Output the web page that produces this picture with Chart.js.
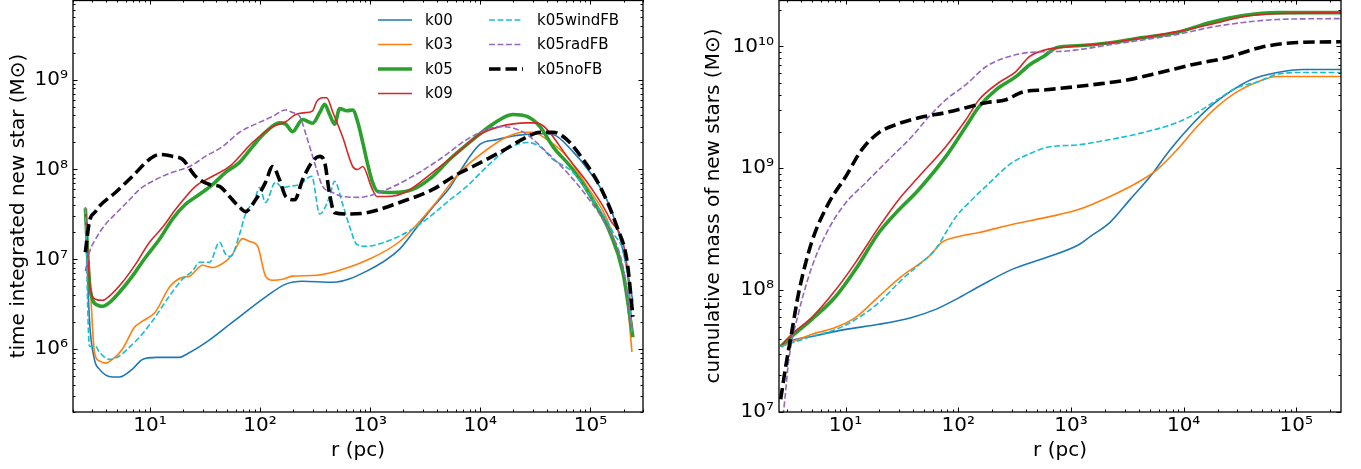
<!DOCTYPE html>
<html>
<head>
<meta charset="utf-8">
<script src="https://cdn.jsdelivr.net/npm/chart.js@4.4.1/dist/chart.umd.min.js"></script>
<style>
  html, body { margin: 0; padding: 0; background: #fff; }
  #wrap { position: relative; width: 1361px; height: 469px; overflow: hidden; }
  canvas { position: absolute; top: 0; }
  #left { left: 0; }
  #right { left: 690px; }
</style>
</head>
<body>
<div id="wrap">
  <canvas id="left" width="680" height="469"></canvas>
  <canvas id="right" width="671" height="469"></canvas>
</div>
<script>
// ---- left panel: time integrated new star mass vs r ----
const leftR_k00 = [2.59, 2.82, 3.13, 3.47, 4.56, 5.28, 6.93, 8.55, 11.5, 18.5, 21.5, 32.6, 56.2, 115, 171, 243, 456, 929, 1850, 2650, 3700, 5280, 6510, 9900, 14100, 21500, 34800, 45600, 69300, 99000, 141000, 174000, 215000, 243000];
const leftM_k00 = [3.6e7, 2.15e6, 7.7e5, 6.0e5, 4.9e5, 4.9e5, 6.0e5, 7.7e5, 8.1e5, 8.1e5, 8.8e5, 1.2e6, 2.0e6, 3.9e6, 5.3e6, 5.7e6, 5.55e6, 7.4e6, 1.3e7, 2.27e7, 3.8e7, 6.3e7, 9.5e7, 1.9e8, 2.15e8, 2.4e8, 2.5e8, 2.45e8, 1.58e8, 9.3e7, 4.6e7, 2.3e7, 7.7e6, 3.4e6];

const leftR_k03 = [2.59, 2.88, 3.13, 3.47, 3.94, 4.56, 5.62, 7.23, 8.55, 11.2, 15.0, 19.7, 22.9, 30.0, 37.0, 48.6, 56.2, 69.3, 80.3, 94.9, 112, 130, 160, 197, 300, 456, 929, 1850, 3700, 6510, 11500, 17400, 24300, 30000, 40300, 61100, 92900, 141000, 185000, 215000, 238000];
const leftM_k03 = [3.6e7, 4.6e6, 9.3e5, 7.4e5, 7.0e5, 7.7e5, 1.0e6, 1.75e6, 2.05e6, 2.6e6, 4.9e6, 6.3e6, 6.5e6, 8.6e6, 8.1e6, 9.5e6, 1.14e7, 1.7e7, 1.58e7, 1.4e7, 6.5e6, 5.85e6, 6.0e6, 6.5e6, 6.6e6, 7.2e6, 9.75e6, 1.58e7, 3.9e7, 9.3e7, 1.67e8, 2.3e8, 2.6e8, 2.6e8, 2.15e8, 1.4e8, 6.5e7, 2.8e7, 9.5e6, 3.6e6, 9.3e5];

const leftR_k05 = [2.59, 2.82, 3.0, 3.33, 3.70, 4.28, 5.28, 6.93, 9.10, 12.2, 16.0, 21.0, 28.2, 37.0, 48.6, 65.1, 85.5, 112, 150, 171, 197, 243, 300, 348, 386, 428, 475, 528, 611, 693, 769, 855, 949, 1050, 1170, 1600, 2430, 3700, 5280, 8550, 13000, 19700, 26500, 34800, 45600, 69300, 105000, 150000, 197000, 243000];
const leftM_k05 = [3.7e7, 5.55e6, 3.6e6, 3.1e6, 3.0e6, 3.3e6, 4.3e6, 6.5e6, 1.05e7, 1.67e7, 2.8e7, 4.1e7, 5.3e7, 6.8e7, 9.3e7, 1.2e8, 1.8e8, 2.6e8, 3.3e8, 3.2e8, 2.64e8, 3.6e8, 3.27e8, 4.3e8, 5.3e8, 4.1e8, 3.2e8, 4.76e8, 4.5e8, 4.6e8, 3.4e8, 2.0e8, 1.14e8, 7.2e7, 5.7e7, 5.55e7, 6.0e7, 8.4e7, 1.3e8, 2.15e8, 3.2e8, 4.1e8, 3.9e8, 3.0e8, 1.8e8, 1.0e8, 4.6e7, 2.0e7, 7.2e6, 1.36e6];

const leftR_k09 = [2.59, 2.88, 3.20, 3.70, 4.28, 5.62, 7.38, 9.9, 13.0, 17.1, 25.9, 37.0, 52.8, 85.5, 130, 171, 210, 259, 300, 326, 370, 402, 456, 562, 693, 769, 855, 1030, 1150, 1410, 2150, 3700, 5620, 9900, 15000, 26500, 32600, 40300, 61100, 99000, 150000, 215000, 238000];
const leftM_k09 = [3.8e7, 4.6e6, 3.6e6, 3.5e6, 3.9e6, 5.55e6, 8.8e6, 1.55e7, 2.27e7, 3.6e7, 6.5e7, 8.4e7, 1.08e8, 2.0e8, 3.0e8, 3.4e8, 4.1e8, 4.3e8, 4.5e8, 5.7e8, 6.3e8, 6.3e8, 4.4e8, 2.3e8, 1.08e8, 1.0e8, 1.08e8, 6.3e7, 5.0e7, 5.0e7, 5.7e7, 9.3e7, 1.4e8, 2.45e8, 3.0e8, 3.3e8, 3.3e8, 2.8e8, 1.4e8, 6.5e7, 2.8e7, 8.4e6, 1.67e6];

const leftR_wind = [2.59, 2.82, 3.20, 3.47, 4.28, 5.28, 6.65, 8.03, 10.5, 15.0, 19.7, 24.3, 28.2, 34.8, 42.8, 48.6, 53.9, 65.1, 73.8, 89.1, 99, 112, 138, 160, 185, 229, 294, 348, 428, 475, 562, 651, 754, 929, 1410, 2150, 3260, 4960, 7530, 11500, 17400, 26500, 34800, 45600, 69300, 105000, 160000, 215000, 238000];
const leftM_wind = [3.7e7, 1.08e6, 1.08e6, 9.3e5, 7.7e5, 8.4e5, 1.08e6, 1.36e6, 2.05e6, 3.9e6, 6.0e6, 7.4e6, 9.3e6, 9.3e6, 1.55e7, 1.14e7, 1.08e7, 1.9e7, 3.2e7, 4.6e7, 6.3e7, 4.3e7, 7.2e7, 6.3e7, 6.5e7, 6.8e7, 8.4e7, 3.2e7, 5.0e7, 7.4e7, 4.1e7, 2.3e7, 1.47e7, 1.4e7, 1.58e7, 2.0e7, 2.8e7, 4.3e7, 6.5e7, 1.08e8, 1.67e8, 2.0e8, 1.8e8, 1.3e8, 9.3e7, 4.6e7, 2.0e7, 7.2e6, 1.55e6];

const leftR_rad = [2.59, 2.82, 3.20, 3.94, 4.86, 6.51, 8.03, 11.2, 16.0, 22.9, 31.9, 45.6, 65.1, 91.0, 130, 171, 197, 229, 265, 300, 326, 370, 456, 562, 803, 1410, 2430, 4280, 7530, 11500, 15000, 19700, 26500, 40300, 61100, 92900, 141000, 197000, 238000];
const leftM_rad = [7.4e6, 1.2e7, 1.67e7, 2.45e7, 3.2e7, 4.6e7, 6.0e7, 7.7e7, 9.3e7, 1.08e8, 1.4e8, 1.8e8, 2.6e8, 3.2e8, 3.9e8, 4.6e8, 4.3e8, 3.9e8, 2.3e8, 1.4e8, 1.0e8, 6.5e7, 5.55e7, 5.0e7, 4.9e7, 6.0e7, 8.4e7, 1.3e8, 2.15e8, 2.8e8, 3.0e8, 2.9e8, 2.45e8, 1.55e8, 9.3e7, 5.0e7, 2.3e7, 8.4e6, 1.67e6];

const leftR_noFB = [2.59, 2.82, 3.20, 3.47, 4.86, 6.93, 9.9, 12.2, 16.0, 19.7, 25.9, 34.8, 42.8, 52.8, 65.1, 73.8, 91.0, 112, 130, 150, 171, 206, 243, 300, 348, 386, 428, 475, 611, 929, 1850, 3700, 6110, 8550, 15000, 26500, 34800, 45600, 61100, 85500, 122000, 174000, 215000, 243000];
const leftM_noFB = [1.2e7, 2.64e7, 3.4e7, 3.9e7, 5.55e7, 8.4e7, 1.3e8, 1.47e8, 1.4e8, 1.3e8, 8.4e7, 6.8e7, 6.5e7, 5.0e7, 3.8e7, 3.4e7, 4.6e7, 7.2e7, 1.08e8, 7.7e7, 5.0e7, 4.6e7, 7.7e7, 1.24e8, 1.4e8, 1.2e8, 5.3e7, 3.3e7, 3.2e7, 3.3e7, 4.3e7, 6.0e7, 8.8e7, 1.08e8, 1.55e8, 2.3e8, 2.6e8, 2.6e8, 2.15e8, 1.3e8, 6.5e7, 2.3e7, 9.5e6, 2.3e6];

// ---- right panel: cumulative mass of new stars vs r ----
const rightR_k00 = [2.66, 3.14, 5.03, 10.06, 19.8, 38.8, 63.1, 95.5, 153, 300, 603, 1183, 1480, 2222, 3350, 5044, 7590, 11420, 17220, 25930, 39040, 67760, 115300, 249000];
const rightM_k00 = [3.45e7, 3.8e7, 4.17e7, 4.76e7, 5.24e7, 5.97e7, 6.95e7, 8.4e7, 1.07e8, 1.48e8, 1.85e8, 2.37e8, 2.75e8, 3.6e8, 5.55e8, 8.55e8, 1.42e9, 2.2e9, 3.2e9, 4.25e9, 5.3e9, 6.1e9, 6.45e9, 6.45e9];

const rightR_k03 = [2.66, 5.03, 8.22, 12.3, 19.8, 31.6, 55.0, 71.6, 101, 153, 300, 603, 1183, 2222, 3864, 5821, 8750, 13190, 19870, 29940, 45060, 67760, 115300, 249000];
const rightM_k03 = [3.45e7, 4.34e7, 4.95e7, 5.97e7, 8.9e7, 1.3e8, 1.89e8, 2.46e8, 2.75e8, 2.97e8, 3.45e8, 3.95e8, 4.6e8, 5.87e8, 7.6e8, 9.75e8, 1.42e9, 2.2e9, 3.2e9, 4.25e9, 5.1e9, 5.65e9, 5.65e9, 5.65e9];

const rightR_k05 = [2.66, 3.33, 5.03, 8.22, 12.3, 19.8, 28.0, 44.8, 77.8, 117, 153, 216, 325, 434, 566, 754, 1135, 2222, 4368, 8750, 17220, 33830, 67760, 249000];
const rightM_k05 = [3.45e7, 4.17e7, 5.75e7, 8.9e7, 1.48e8, 2.97e8, 4.3e8, 6.7e8, 1.25e9, 2.2e9, 3.2e9, 4.4e9, 5.65e9, 7.1e9, 8.2e9, 9.8e9, 1.01e10, 1.07e10, 1.18e10, 1.3e10, 1.57e10, 1.79e10, 1.89e10, 1.89e10];

const rightR_k09 = [2.66, 3.33, 5.03, 8.22, 12.3, 19.8, 29.7, 44.8, 77.8, 117, 153, 230, 325, 425, 603, 834, 1135, 2222, 4368, 8750, 17220, 33830, 67760, 249000];
const rightM_k09 = [3.45e7, 4.34e7, 5.97e7, 1.01e8, 1.69e8, 3.3e8, 5.55e8, 8.55e8, 1.51e9, 2.5e9, 3.65e9, 5.05e9, 6.2e9, 8.2e9, 9.4e9, 9.8e9, 1.01e10, 1.07e10, 1.18e10, 1.32e10, 1.51e10, 1.75e10, 1.85e10, 1.89e10];

const rightR_wind = [2.66, 5.03, 8.22, 12.3, 19.8, 31.6, 47.6, 63.1, 77.8, 95.5, 124, 176, 300, 452, 603, 1183, 2222, 4368, 8750, 13190, 19870, 29940, 45060, 67760, 115300, 249000];
const rightM_wind = [3.45e7, 4.17e7, 4.76e7, 5.75e7, 7.9e7, 1.22e8, 1.69e8, 2.16e8, 2.97e8, 4.0e8, 5.2e8, 7.1e8, 1.11e9, 1.34e9, 1.48e9, 1.56e9, 1.72e9, 1.96e9, 2.37e9, 2.86e9, 3.65e9, 4.6e9, 5.1e9, 5.9e9, 6.1e9, 6.1e9];

const rightR_rad = [2.66, 2.83, 3.14, 3.85, 5.03, 7.11, 10.06, 15.1, 24.2, 38.8, 55.0, 77.8, 117, 176, 265, 425, 834, 1183, 2222, 4368, 8750, 17220, 33830, 67760, 249000];
const rightM_rad = [8e6, 1.05e7, 2.7e7, 6.6e7, 1.55e8, 3.2e8, 5.2e8, 7.6e8, 1.18e9, 1.82e9, 2.65e9, 3.65e9, 4.85e9, 6.8e9, 8.1e9, 8.9e9, 9.1e9, 9.4e9, 1.03e10, 1.13e10, 1.25e10, 1.43e10, 1.57e10, 1.66e10, 1.69e10];

const rightR_noFB = [2.66, 2.95, 3.33, 3.85, 5.03, 7.11, 10.06, 13.96, 19.8, 28.0, 44.8, 77.8, 117, 176, 265, 368, 603, 1183, 1571, 3147, 6184, 12150, 24380, 47880, 93980, 249000];
const rightM_noFB = [1.27e7, 2.37e7, 4.5e7, 9.6e7, 2.5e8, 5.2e8, 8.55e8, 1.42e9, 1.96e9, 2.28e9, 2.6e9, 2.86e9, 3.14e9, 3.45e9, 3.65e9, 4.2e9, 4.4e9, 4.7e9, 4.85e9, 5.3e9, 6.1e9, 7.1e9, 8.1e9, 9.8e9, 1.07e10, 1.09e10];

// ---- axis ticks ----
const xTickValues = [1e1, 1e2, 1e3, 1e4, 1e5];
const leftYTickValues = [1e6, 1e7, 1e8, 1e9];
const rightYTickValues = [1e7, 1e8, 1e9, 1e10];

const FONT = 'DejaVu Sans';
const SUP = { '0': '⁰', '1': '¹', '2': '²', '3': '³', '4': '⁴', '5': '⁵', '6': '⁶', '7': '⁷', '8': '⁸', '9': '⁹' };
function powLabel(v) {
  const e = Math.round(Math.log10(v));
  return '10' + String(e).split('').map(c => SUP[c]).join('');
}

function series(label, rs, ms, color, width, dash, order) {
  return {
    label,
    data: rs.map((r, i) => ({ x: r, y: ms[i] })),
    borderColor: color,
    backgroundColor: color,
    borderWidth: width,
    borderDash: dash,
    pointRadius: 0,
    fill: false,
    cubicInterpolationMode: 'monotone',
    order
  };
}

// matplotlib-like frame with inward major/minor ticks on all four sides
const frameTicks = {
  id: 'frameTicks',
  afterDraw(chart) {
    const { ctx, chartArea: a, scales: { x, y } } = chart;
    ctx.save();
    ctx.strokeStyle = '#000';
    ctx.lineWidth = 1;
    const drawTicks = (scale, horizontal) => {
      const lo = Math.floor(Math.log10(scale.min));
      const hi = Math.ceil(Math.log10(scale.max));
      for (let d = lo; d <= hi; d++) {
        for (let k = 1; k <= 9; k++) {
          const v = k * Math.pow(10, d);
          if (v < scale.min * 0.999 || v > scale.max * 1.001) continue;
          const len = k === 1 ? 4.5 : 2.5;
          const p = Math.round(scale.getPixelForValue(v)) + 0.5;
          ctx.beginPath();
          if (horizontal) {
            ctx.moveTo(p, a.bottom); ctx.lineTo(p, a.bottom - len);
            ctx.moveTo(p, a.top); ctx.lineTo(p, a.top + len);
          } else {
            ctx.moveTo(a.left, p); ctx.lineTo(a.left + len, p);
            ctx.moveTo(a.right, p); ctx.lineTo(a.right - len, p);
          }
          ctx.stroke();
        }
      }
    };
    drawTicks(x, true);
    drawTicks(y, false);
    ctx.lineWidth = 1.3;
    ctx.strokeRect(a.left, a.top + 0.5, a.right - a.left, a.bottom - a.top - 0.5);
    ctx.restore();
  }
};

// two-column legend (column-major, like matplotlib ncol=2)
const colLegend = {
  id: 'colLegend',
  afterDatasetsDraw(chart) {
    const { ctx } = chart;
    const cols = [{ lineX: 378, textX: 425, items: [0, 1, 2, 3] },
                  { lineX: 489, textX: 537, items: [4, 5, 6] }];
    ctx.save();
    ctx.font = '15px "' + FONT + '"';
    ctx.textBaseline = 'middle';
    ctx.fillStyle = '#000';
    cols.forEach(col => {
      col.items.forEach((idx, row) => {
        const ds = chart.data.datasets[idx];
        const yy = 20 + row * 24.5;
        ctx.save();
        ctx.strokeStyle = ds.borderColor;
        ctx.lineWidth = ds.borderWidth;
        ctx.setLineDash(ds.borderDash || []);
        ctx.beginPath();
        ctx.moveTo(col.lineX, yy);
        ctx.lineTo(col.lineX + 34, yy);
        ctx.stroke();
        ctx.restore();
        ctx.fillText(ds.label, col.textX, yy + 1);
      });
    });
    ctx.restore();
  }
};

function makeChart(canvasId, sets, opts) {
  const font = { family: FONT, size: 20 };
  return new Chart(document.getElementById(canvasId), {
    type: 'line',
    data: { datasets: sets },
    options: {
      responsive: false,
      animation: false,
      devicePixelRatio: 1,
      layout: { padding: { top: 0, right: opts.padRight, left: 0, bottom: 0 } },
      plugins: { legend: { display: false }, tooltip: { enabled: false } },
      scales: {
        x: {
          type: 'logarithmic',
          min: opts.xMin, max: opts.xMax,
          grid: { display: false, drawTicks: false }, border: { display: false },
          afterBuildTicks: s => { s.ticks = xTickValues.map(v => ({ value: v })); },
          afterFit: s => { s.height = 57; s.paddingLeft = 0; s.paddingRight = 0; },
          ticks: { callback: v => powLabel(v), font, color: '#000', padding: 2, maxRotation: 0, autoSkip: false },
          title: { display: true, text: 'r (pc)', font, color: '#000', padding: { top: 0, bottom: 6 } }
        },
        y: {
          type: 'logarithmic',
          min: opts.yMin, max: opts.yMax,
          grid: { display: false, drawTicks: false }, border: { display: false },
          afterBuildTicks: s => { s.ticks = opts.yTicks.map(v => ({ value: v })); },
          afterFit: s => { s.width = opts.yWidth; s.paddingTop = 0; s.paddingBottom = 0; },
          ticks: { callback: v => powLabel(v), font, color: '#000', padding: 5, autoSkip: false },
          title: { display: true, text: opts.yTitle, font, color: '#000', padding: { top: opts.titlePad, bottom: 0 } }
        }
      }
    },
    plugins: opts.plugins
  });
}

const thin = 1.6, thick = 3.6;
const dashThin = [5.9, 2.6], dashThick = [11.5, 5];

makeChart('left', [
  series('k00', leftR_k00, leftM_k00, '#1f77b4', thin, [], 6),
  series('k03', leftR_k03, leftM_k03, '#ff7f0e', thin, [], 5),
  series('k05', leftR_k05, leftM_k05, '#2ca02c', thick, [], 4),
  series('k09', leftR_k09, leftM_k09, '#d62728', thin, [], 3),
  series('k05windFB', leftR_wind, leftM_wind, '#17becf', thin, dashThin, 2),
  series('k05radFB', leftR_rad, leftM_rad, '#9467bd', thin, dashThin, 1),
  series('k05noFB', leftR_noFB, leftM_noFB, '#000000', thick, dashThick, 0)
], {
  xMin: 2, xMax: 3e5, yMin: 2e5, yMax: 7.7e9, yTicks: leftYTickValues,
  yWidth: 73, padRight: 37, titlePad: 7,
  yTitle: 'time integrated new star (M⊙)',
  plugins: [frameTicks, colLegend]
});

makeChart('right', [
  series('k00', rightR_k00, rightM_k00, '#1f77b4', thin, [], 6),
  series('k03', rightR_k03, rightM_k03, '#ff7f0e', thin, [], 5),
  series('k05', rightR_k05, rightM_k05, '#2ca02c', thick, [], 4),
  series('k09', rightR_k09, rightM_k09, '#d62728', thin, [], 3),
  series('k05windFB', rightR_wind, rightM_wind, '#17becf', thin, dashThin, 2),
  series('k05radFB', rightR_rad, rightM_rad, '#9467bd', thin, dashThin, 1),
  series('k05noFB', rightR_noFB, rightM_noFB, '#000000', thick, dashThick, 0)
], {
  xMin: 2.57, xMax: 2.49e5, yMin: 1e7, yMax: 2.4e10, yTicks: rightYTickValues,
  yWidth: 89, padRight: 20, titlePad: 12,
  yTitle: 'cumulative mass of new stars (M⊙)',
  plugins: [frameTicks]
});
</script>
</body>
</html>
